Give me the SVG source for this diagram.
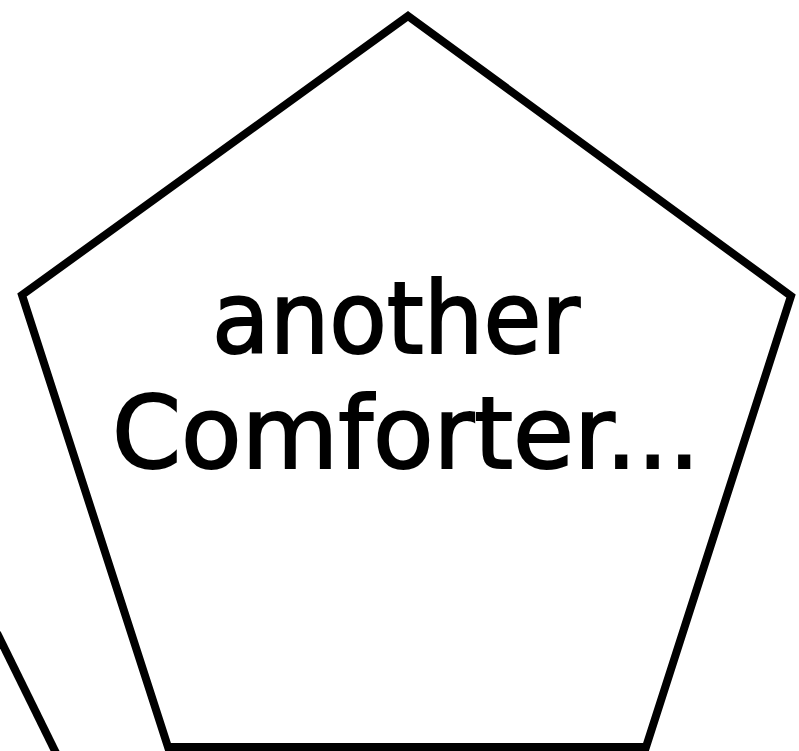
<svg xmlns="http://www.w3.org/2000/svg" width="799" height="751" viewBox="0 0 799 751">
<style>
.shape{fill:none;stroke:#000;stroke-width:8;stroke-linejoin:miter}
.lbl{font-family:"DejaVu Sans","Noto Sans",sans-serif;font-size:100px;fill:#000;stroke:#000;stroke-width:2}
</style>
<rect width="799" height="751" fill="#fff"/>
<g id="pentagon">
<polygon class="shape" points="408,16 791,296 646,747 168,747 22,295"/>
<text class="lbl" x="212" y="353" textLength="368" lengthAdjust="spacingAndGlyphs">another</text>
<text class="lbl" x="112" y="468" textLength="588" lengthAdjust="spacingAndGlyphs">Comforter...</text>
</g>
<g id="connectors">
<line class="shape" x1="-3" y1="633" x2="57" y2="755"/>
</g>
</svg>
